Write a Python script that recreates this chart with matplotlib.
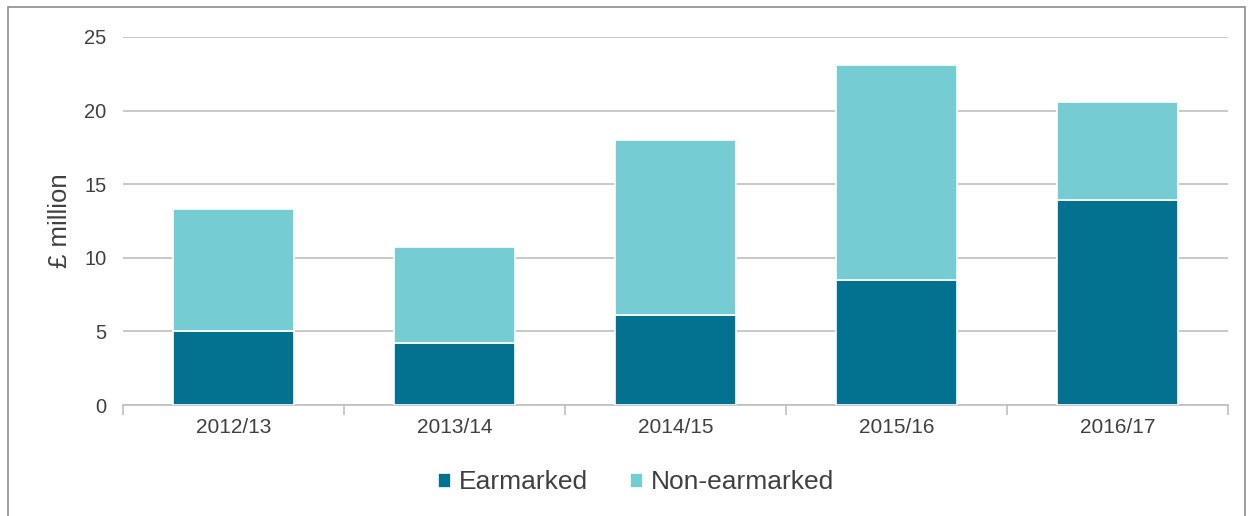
import matplotlib.pyplot as plt
from matplotlib.patches import Rectangle
import numpy as np

plt.rcParams['font.family'] = ['Liberation Sans', 'DejaVu Sans']

years = ["2012/13", "2013/14", "2014/15", "2015/16", "2016/17"]
earmarked = [5.0, 4.2, 6.1, 8.5, 13.9]
non_earmarked = [8.3, 6.5, 11.9, 14.6, 6.7]

dark = "#037190"
light = "#75CDD3"
grey = "#BFBFBF"
text_col = "#404040"

fig = plt.figure(figsize=(12.52, 5.16), dpi=100)
fig.patches.append(Rectangle((0.0065, -0.01), 0.988, 0.997, transform=fig.transFigure,
                             fill=False, edgecolor="#8C8C8C", linewidth=1.2))
ax = fig.add_axes([0.0982, 0.2151, 0.8826, 0.7132])

x = np.arange(len(years))
ax.bar(x, earmarked, width=0.55, color=dark, edgecolor="white", linewidth=1.2,
       label="Earmarked", zorder=3)
ax.bar(x, non_earmarked, width=0.55, bottom=earmarked, color=light, edgecolor="white",
       linewidth=1.2, label="Non-earmarked", zorder=3)

ax.set_xlim(-0.5, len(years) - 0.5)
ax.set_ylim(0, 25)
ax.set_yticks(range(0, 26, 5))
ax.yaxis.grid(True, color=grey, linewidth=1.2, zorder=0)
ax.tick_params(axis='y', length=0, labelsize=14.5, labelcolor=text_col, pad=12)

ax.set_xticks(x)
ax.set_xticklabels(years)
ax.set_xticks(np.arange(-0.5, len(years)), minor=True)
ax.tick_params(axis='x', which='major', length=0, labelsize=15, labelcolor=text_col, pad=9)
ax.tick_params(axis='x', which='minor', length=7, color=grey, width=1.2)

for s in ["top", "right", "left"]:
    ax.spines[s].set_visible(False)
ax.spines["bottom"].set_color(grey)
ax.spines["bottom"].set_linewidth(1.2)

ax.set_ylabel("£ million", fontsize=18.5, color=text_col, labelpad=9)

fig.legend(loc="center", bbox_to_anchor=(0.508, 0.065), ncol=2, frameon=False,
           fontsize=19, labelcolor=text_col, handlelength=0.5, handleheight=0.5,
           handletextpad=0.3, columnspacing=1.6)

fig.savefig("out.png", dpi=100)
